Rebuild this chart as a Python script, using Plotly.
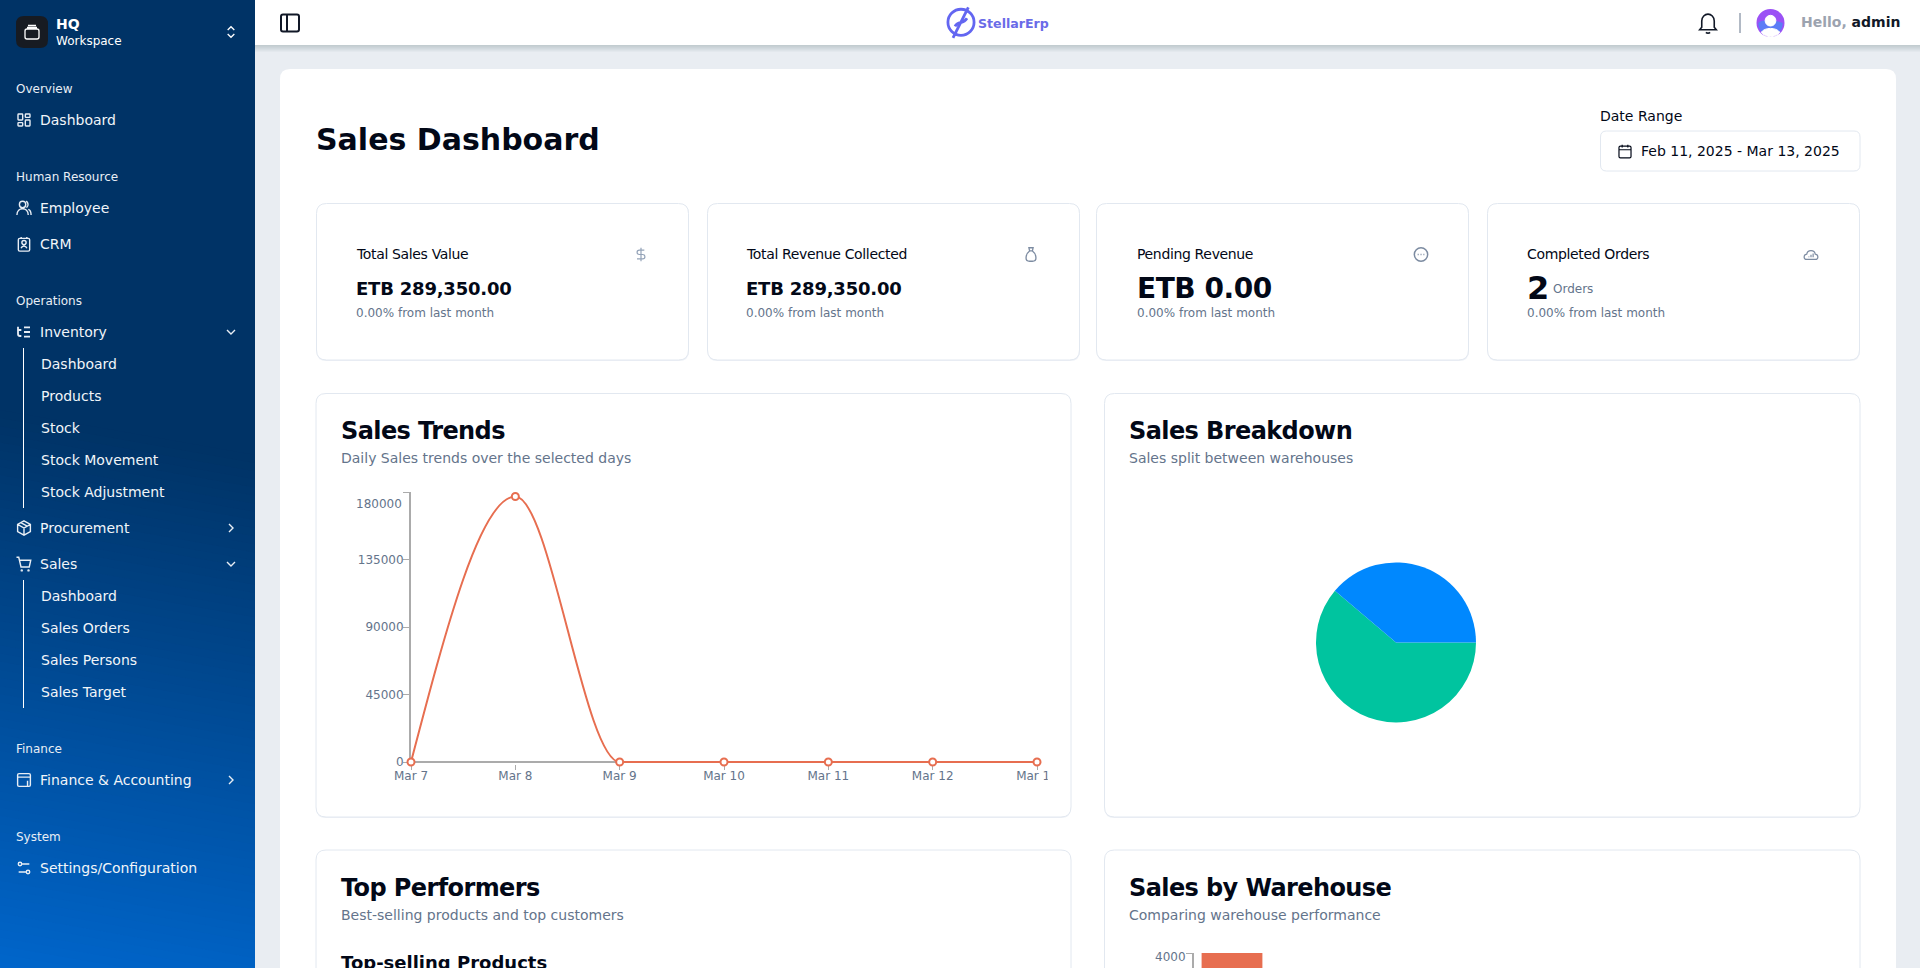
import re
import plotly.graph_objects as go

W = 1920
H = 968
FONT = "DejaVu Sans"

# === DATOS ===
trend_days = ["Mar 7", "Mar 8", "Mar 9", "Mar 10", "Mar 11", "Mar 12", "Mar 13"]
trend_sales = [0, 177000, 0, 0, 0, 0, 0]
trend_ticks = [0, 45000, 90000, 135000, 180000]
trend_tick_text = ["0", "45000", "90000", "135000", ""]

warehouse_names = ["Warehouse B", "Warehouse A"]
warehouse_share = [177000, 112350]
warehouse_colors = ["#00C49F", "#0088FE"]

bar_values = [4000]
bar_top_tick = 4000

kpi_titles = ["Total Sales Value", "Total Revenue Collected", "Pending Revenue", "Completed Orders"]
kpi_values = ["ETB 289,350.00", "ETB 289,350.00", "ETB 0.00", "2"]
kpi_sizes = [18, 18, 28, 32]
kpi_track = [-0.2, -0.2, -0.45, 0]
kpi_left = [316, 707, 1096, 1487]
kpi_text_x = [356.5, 746.5, 1137.5, 1527.5]

nav_heads = [("Overview", 88.7), ("Human Resource", 176.7), ("Operations", 300.7), ("Finance", 748.7), ("System", 836.7)]
nav_main = [("Dashboard", 120), ("Employee", 208), ("CRM", 244), ("Inventory", 332), ("Procurement", 528),
            ("Sales", 564), ("Finance & Accounting", 780), ("Settings/Configuration", 868)]
nav_sub = [("Dashboard", 364), ("Products", 396), ("Stock", 428), ("Stock Movement", 460), ("Stock Adjustment", 492),
           ("Dashboard", 596), ("Sales Orders", 628), ("Sales Persons", 660), ("Sales Target", 692)]

shapes = []
notes = []


# === HELPERS ===
def text(x, y, s, size=14, color="#020817", bold=False, track=0):
    if track:
        s = f'<span style="letter-spacing:{track}px">{s}</span>'
    notes.append(dict(x=x - 1.5, y=y, xref="x", yref="y", text=f"<b>{s}</b>" if bold else s, showarrow=False,
                      xanchor="left", yanchor="middle", borderpad=0,
                      font=dict(family=FONT, size=size, color=color)))


def rr(x0, y0, x1, y1, r):
    return (f"M{x0 + r} {y0} L{x1 - r} {y0} Q{x1} {y0} {x1} {y0 + r} L{x1} {y1 - r} Q{x1} {y1} {x1 - r} {y1} "
            f"L{x0 + r} {y1} Q{x0} {y1} {x0} {y1 - r} L{x0} {y0 + r} Q{x0} {y0} {x0 + r} {y0} Z")


def circ(cx, cy, r):
    k = 0.5523 * r
    return (f"M{cx + r} {cy} C{cx + r} {cy + k} {cx + k} {cy + r} {cx} {cy + r} "
            f"C{cx - k} {cy + r} {cx - r} {cy + k} {cx - r} {cy} "
            f"C{cx - r} {cy - k} {cx - k} {cy - r} {cx} {cy - r} "
            f"C{cx + k} {cy - r} {cx + r} {cy - k} {cx + r} {cy} Z")


def box(x0, y0, x1, y1, fill, line=None, width=1, r=0):
    shapes.append(dict(type="path", xref="x", yref="y", path=rr(x0, y0, x1, y1, r) if r else
                       f"M{x0} {y0} L{x1} {y0} L{x1} {y1} L{x0} {y1} Z",
                       fillcolor=fill, line=dict(color=line or "rgba(0,0,0,0)", width=width if line else 0),
                       layer="below"))


def icon(cx, cy, size, path, color, width=1.4, fill="rgba(0,0,0,0)"):
    # iconos dibujados en una grilla de 24x24
    k = size / 24
    i = [0]

    def conv(m):
        v = float(m.group())
        base = (cx - size / 2) if i[0] % 2 == 0 else (cy - size / 2)
        i[0] += 1
        return f"{base + v * k:.2f}"

    shapes.append(dict(type="path", xref="x", yref="y", path=re.sub(r"-?\d+\.?\d*", conv, path),
                       line=dict(color=color, width=width), fillcolor=fill, layer="below"))


# curva monotona (misma regla que usa d3 monotoneX) calculada desde la serie
def monotone_path(xs, ys):
    n = len(xs)
    hs = [xs[i + 1] - xs[i] for i in range(n - 1)]
    ss = [(ys[i + 1] - ys[i]) / hs[i] for i in range(n - 1)]
    sign = lambda v: (v > 0) - (v < 0)
    ts = [0.0] * n
    for i in range(1, n - 1):
        p = (ss[i - 1] * hs[i] + ss[i] * hs[i - 1]) / (hs[i - 1] + hs[i])
        ts[i] = (sign(ss[i - 1]) + sign(ss[i])) * min(abs(ss[i - 1]), abs(ss[i]), 0.5 * abs(p))
    ts[0] = (3 * ss[0] - ts[1]) / 2
    ts[-1] = (3 * ss[-1] - ts[-2]) / 2
    out = f"M{xs[0]} {ys[0]}"
    for i in range(n - 1):
        h = hs[i] / 3
        out += f" C{xs[i] + h} {ys[i] + h * ts[i]} {xs[i + 1] - h} {ys[i + 1] - h * ts[i + 1]} {xs[i + 1]} {ys[i + 1]}"
    return out


# === FONDO ===
box(0, 0, W, H, "#E9EDF2")

# sidebar con degradado
TOP = (0, 51, 102)
END = (0, 102, 204)
box(0, 0, 255, H, "#003366")
bands = 70
for b in range(bands):
    t = b / (bands - 1)
    y_left = 410 + t * 560
    col = tuple(round(TOP[c] + (END[c] - TOP[c]) * t) for c in range(3))
    shapes.append(dict(type="path", xref="x", yref="y",
                       path=f"M0 {y_left} L255 {y_left + 45} L255 {H} L0 {H} Z",
                       fillcolor=f"rgb{col}", line=dict(width=0), layer="below"))

# barra superior y sombra
for s in range(7):
    box(255, 45, W, 45 + 7 - s, "rgba(15,23,42,0.022)")
box(255, 0, W, 45, "#FFFFFF")

# panel principal
box(280, 69, 1896, 1000, "#FFFFFF", r=10)

# tarjetas
for left in kpi_left:
    box(left + 0.5, 204, left + 373, 361, "rgba(226,232,240,0.6)", r=10)
    box(left + 0.5, 203.5, left + 372.5, 360, "#FFFFFF", "#E2E8F0", r=10)
for (x0, y0, x1, y1) in [(316, 393.5, 1071, 817), (1104.5, 393.5, 1860, 817), (316, 850, 1071, 1000), (1104.5, 850, 1860, 1000)]:
    box(x0, y0 + 1, x1, y1 + 1, "rgba(226,232,240,0.6)", r=10)
    box(x0, y0, x1, y1, "#FFFFFF", "#E2E8F0", r=10)

# === SIDEBAR ===
box(16, 16, 48, 48, "#171B22", r=8)
icon(32, 32, 24, rr(5, 9, 19, 19, 2) + " M8 5.5 L16 5.5 M7 7.5 L17 7.5", "#FFFFFF", 1.3)
text(56, 24, "HQ", 14, "#FFFFFF", True)
text(56, 40.5, "Workspace", 12, "#FFFFFF")
icon(231, 32, 16, "M7 9 L12 4 L17 9 M7 15 L12 20 L17 15", "#FFFFFF", 1.3)
for label, y in nav_heads:
    text(16, y, label, 12, "#E8EEF5")
for label, y in nav_main:
    text(40, y, label, 14, "#F1F5F9")
for label, y in nav_sub:
    text(41, y, label, 14, "#F1F5F9")
for y0, y1 in [(348, 508), (580, 708)]:
    shapes.append(dict(type="line", xref="x", yref="y", x0=23.5, x1=23.5, y0=y0, y1=y1,
                       line=dict(color="#FFFFFF", width=1), layer="below"))
WH = "#E8EEF5"
icon(24, 120, 16, rr(3, 3, 10, 12, 1) + " " + rr(14, 3, 21, 8, 1) + " " + rr(14, 12, 21, 21, 1) + " " + rr(3, 16, 10, 21, 1), WH)
icon(24, 208, 17, circ(10, 7, 4.5) + " M2 22 C2 16 6 13 10 13 C14 13 18 16 18 22 M15 2.5 C18 3.5 19 9 15.5 11.5 M18 14 C21 15 22 18 22 22", WH)
icon(24, 244, 17, rr(4, 4, 20, 22, 2) + " M8 2 L8 5 M16 2 L16 5 " + circ(12, 10, 3) + " M8 18 C9 14 15 14 16 18", WH)
icon(24, 332, 16, "M3 4 L3 15 C3 17 4 18 6 18 L8 18 M3 9 L8 9 M12 5 L21 5 M12 12 L21 12 M12 19 L21 19", WH, 1.8)
icon(24, 528, 17, "M12 2 L21 7 L21 17 L12 22 L3 17 L3 7 Z M3 7 L12 12 L21 7 M12 12 L12 22 M7.5 4.5 L16.5 9.5", WH)
icon(24, 564, 18, "M2 3 L5 3 L8 16 L19 16 L21 7 L6 7 " + circ(9, 20.5, 0.7) + " " + circ(18, 20.5, 0.7), WH)
icon(24, 780, 17, rr(3, 3, 21, 21, 2) + " M3 8 L21 8 M17 13 L17 21", WH)
icon(24, 868, 16, "M9 6 L20 6 M4 18 L15 18 " + circ(6, 6, 2.6) + " " + circ(18, 18, 2.6), WH)
for y in [332, 564]:
    icon(231, y, 16, "M6 9 L12 15 L18 9", WH, 1.4)
for y in [528, 780]:
    icon(231, y, 16, "M9 6 L15 12 L9 18", WH, 1.4)

# === BARRA SUPERIOR ===
icon(290, 23, 24, rr(3, 3.5, 21, 20.5, 2) + " M9 3.5 L9 20.5", "#111827", 2)
icon(961, 23, 32, circ(12, 11.5, 9.8) + " M17.5 0.2 L6 23.2 M7.5 14.5 C10 10 13.5 13.5 16.5 8.5", "#6366F1", 2.8)
text(978, 23, "StellarErp", 12.6, "#6A6BE8", True)
icon(1708, 23, 25, "M6 16 L6 10 C6 6 9 3.5 12 3.5 C15 3.5 18 6 18 10 L18 16 L20 18.5 L4 18.5 Z M10 21 C11 22 13 22 14 21", "#111827", 1.6)
shapes.append(dict(type="line", xref="x", yref="y", x0=1740, x1=1740, y0=13, y1=33,
                   line=dict(color="#64748B", width=1), layer="below"))
shapes.append(dict(type="circle", xref="x", yref="y", x0=1756.5, x1=1784.5, y0=9, y1=37,
                   fillcolor="#9B51F5", line=dict(width=0), layer="below"))
icon(1770.5, 23, 28, "M1.5 12 C5 8 18 10 22.5 12 C22.5 18 18 23 12 23 C6 23 1.5 18 1.5 12 Z", "#5C7CF6", 0, "#5C7CF6")
icon(1770.5, 23, 28, circ(12, 10, 4.6), "#FFFFFF", 1, "#FFFFFF")
icon(1770.5, 23, 28, "M4 20 C7 15.5 17 15.5 20 20 C16 25 8 25 4 20 Z", "#FFFFFF", 1, "#FFFFFF")
notes.append(dict(x=1799.5, y=22, xref="x", yref="y", showarrow=False, xanchor="left", yanchor="middle", borderpad=0,
                  text='<b><span style="color:#9CA3AF">Hello,</span> admin</b>',
                  font=dict(family=FONT, size=14, color="#111827")))

# === ENCABEZADO ===
text(316, 139, "Sales Dashboard", 30, "#020817", True)
text(1600.5, 116, "Date Range", 14)
box(1600.5, 131, 1860, 171, "#FFFFFF", "#E2E8F0", r=6)
icon(1625, 151.5, 17, rr(3.5, 4.5, 20.5, 21, 2) + " M8 2.5 L8 6.5 M16 2.5 L16 6.5 M3.5 9.5 L20.5 9.5", "#020817", 1.2)
text(1641.5, 151, "Feb 11, 2025 - Mar 13, 2025", 14)

# === KPI ===
for x, title, value, size, track in zip(kpi_text_x, kpi_titles, kpi_values, kpi_sizes, kpi_track):
    text(x, 254, title, 14, track=-0.35)
    text(x, 288, value, size, bold=True, track=track)
    text(x, 313, "0.00% from last month", 12, "#64748B")
text(1553, 289, "Orders", 12, "#64748B")
GR = "#7C8BA1"
icon(641, 254.5, 16, "M12 2 L12 22 M17 5.5 L9.5 5.5 C5 5.5 5 12 9.5 12 L14.5 12 C19 12 19 18.5 14.5 18.5 L6 18.5", "#94A3B8", 1.2)
icon(1031, 254.5, 17, "M9 2.5 L15 2.5 L14 7 L10 7 Z M10 7 C6 10 5 14 5 17 C5 20 7 21.5 10 21.5 L14 21.5 C17 21.5 19 20 19 17 C19 14 18 10 14 7", GR, 1.3)
icon(1421, 254.5, 16, circ(12, 12, 10) + " M7 12 L8.5 12 M11.3 12 L12.8 12 M15.6 12 L17 12", GR, 1.5)
icon(1811, 254.5, 17, "M6 19 C1 19 1 12 6 11.5 C7 5 17 5 18 11.5 C23 12 23 19 18 19 Z M9 16 L9 15 M12 16 L12 12.5 M15 16 L15 10.5", GR, 1.2)

# === TITULOS DE TARJETAS ===
for x, y, title, sub in [(341, 430, "Sales Trends", "Daily Sales trends over the selected days"),
                         (1129, 430, "Sales Breakdown", "Sales split between warehouses"),
                         (341, 887, "Top Performers", "Best-selling products and top customers"),
                         (1129, 887, "Sales by Warehouse", "Comparing warehouse performance")]:
    text(x, y + 1, title, 24, "#020817", True, track=-0.6)
    text(x, y + 28, sub, 14, "#64748B")
text(341, 962, "Top-selling Products", 18, "#020817", True)

# === GRAFICOS ===
fig = go.Figure()
day_pos = list(range(len(trend_days)))

# trazo suavizado, pasa por la escala del eje x2/y2
shapes.append(dict(type="path", xref="x2", yref="y2", path=monotone_path(day_pos, trend_sales),
                   line=dict(color="#E76E50", width=2), fillcolor="rgba(0,0,0,0)", layer="between"))
fig.add_trace(go.Scatter(x=day_pos, y=trend_sales, mode="markers", xaxis="x2", yaxis="y2", cliponaxis=False,
                         marker=dict(size=7, color="#FFFFFF", line=dict(color="#E76E50", width=2)),
                         showlegend=False))
fig.add_trace(go.Pie(labels=warehouse_names, values=warehouse_share, sort=False, direction="clockwise",
                     rotation=90, textinfo="none", showlegend=False,
                     marker=dict(colors=warehouse_colors, line=dict(width=0)),
                     domain=dict(x=[1316 / W, 1476 / W], y=[1 - 722.4 / H, 1 - 562.4 / H])))
fig.add_trace(go.Bar(x=[0], y=bar_values, width=0.8, xaxis="x3", yaxis="y3", showlegend=False,
                     marker=dict(color="#E76E50", line=dict(width=0))))

notes.append(dict(x=0, y=180000, xref="x2", yref="y2", text="180000", showarrow=False, xanchor="right", xshift=-8,
                  yshift=-12, yanchor="middle", borderpad=0, font=dict(family=FONT, size=12, color="#64748B")))
notes.append(dict(x=-0.5, y=bar_top_tick, xref="x3", yref="y3", text=str(bar_top_tick), showarrow=False, xanchor="right",
                  xshift=-7, yshift=-4, yanchor="middle", borderpad=0, font=dict(family=FONT, size=12, color="#64748B")))

# recorte del ultimo rotulo como en el original
shapes.append(dict(type="rect", xref="x", yref="y", x0=1047.7, x1=1066, y0=766, y1=786,
                   fillcolor="#FFFFFF", line=dict(width=0), layer="above"))

AX = "#ABABAB"
TICKF = dict(family=FONT, size=12, color="#64748B")
fig.update_layout(
    template=None,
    width=W, height=H, margin=dict(l=0, r=0, t=0, b=0), paper_bgcolor="#E9EDF2", plot_bgcolor="rgba(0,0,0,0)",
    shapes=shapes, annotations=notes, font=dict(family=FONT), showlegend=False,
    xaxis=dict(domain=[0, 1], range=[0, W], visible=False, fixedrange=True, automargin=False),
    yaxis=dict(domain=[0, 1], range=[H, 0], visible=False, fixedrange=True, automargin=False),
    xaxis2=dict(domain=[411 / W, 1037 / W], range=[0, 6], anchor="y2", tickvals=day_pos, ticktext=trend_days,
                showgrid=False, zeroline=False, showline=False, ticks="outside", ticklen=5, ticklabelstandoff=-4,
                tickcolor=AX, tickfont=TICKF, layer="below traces", fixedrange=True, automargin=False),
    # el cero va como zeroline para que quede centrado bajo la curva
    yaxis2=dict(domain=[1 - 763.5 / H, 1 - 492 / H], range=[-1000, 180000], anchor="x2", tickvals=trend_ticks,
                ticktext=trend_tick_text, showgrid=False, zeroline=True, zerolinecolor=AX, zerolinewidth=2,
                showline=True, linecolor=AX, linewidth=2, ticks="outside", ticklen=6, ticklabelstandoff=-3,
                tickcolor=AX, tickfont=TICKF, layer="below traces", fixedrange=True, automargin=False),
    xaxis3=dict(domain=[1194 / W, 1270 / W], range=[-0.5, 0.5], anchor="y3", visible=False, fixedrange=True,
                automargin=False),
    yaxis3=dict(domain=[0, 1 - 953 / H], range=[3800, 4000], anchor="x3", tickvals=[bar_top_tick], ticktext=[""],
                showgrid=False, zeroline=False, showline=True, linecolor=AX, linewidth=2, ticks="outside", ticklen=6,
                tickcolor=AX, fixedrange=True, automargin=False),
)

fig.write_html("out.html", config=dict(displayModeBar=False),
               post_script="document.body.style.margin='0';document.documentElement.style.overflow='hidden';")
